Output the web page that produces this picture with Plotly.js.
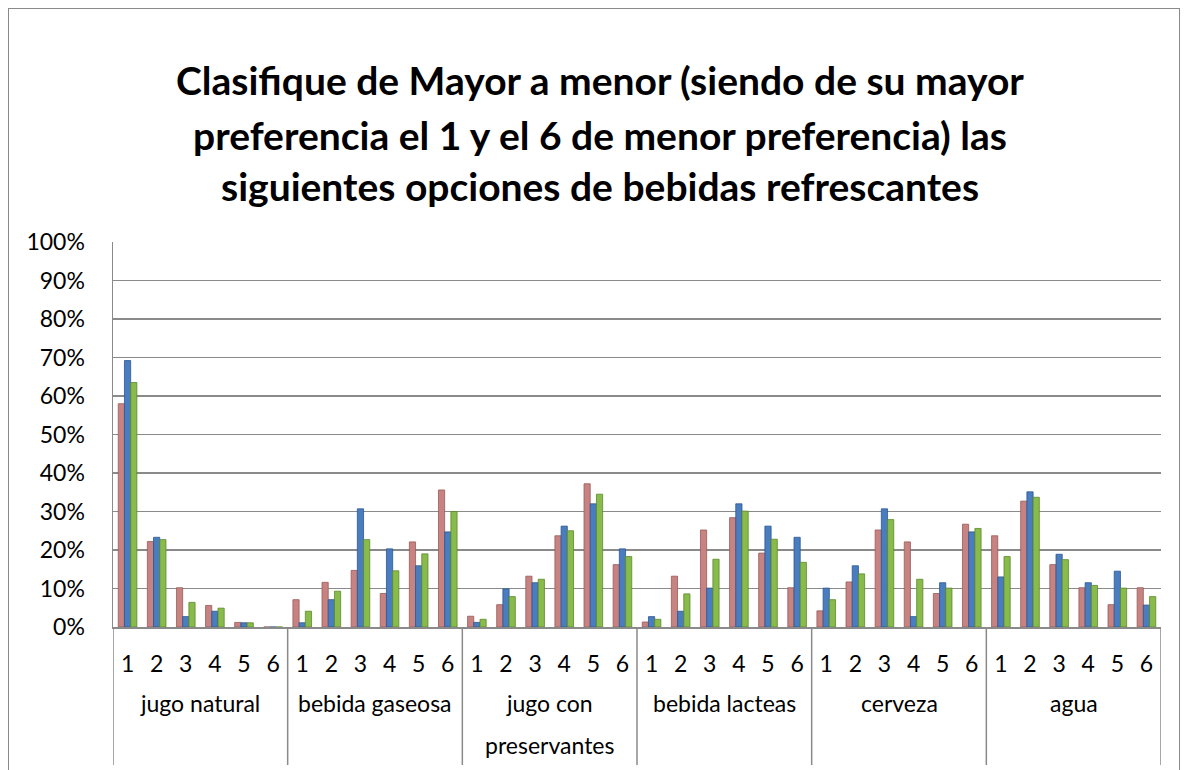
<!DOCTYPE html>
<html>
<head>
<meta charset="utf-8">
<script src="https://cdn.plot.ly/plotly-3.0.1.min.js"></script>
<style>
  html, body { margin: 0; padding: 0; background: #fff; overflow: hidden; }
  #chart { position: absolute; left: 0; top: 0; width: 1189px; height: 770px; }
  #frame { position: absolute; left: 8px; top: 8px; width: 1170px; height: 820px;
           border: 1.5px solid #8a8a8a; pointer-events: none; }
</style>
</head>
<body>
<div id="chart"></div>
<div id="frame"></div>
<script>
// ---- data ----
const titleLines = [
  "Clasifique de Mayor a menor (siendo de su mayor",
  "preferencia el 1 y el 6 de menor preferencia) las",
  "siguientes opciones de bebidas refrescantes"
];
const groups = ["jugo natural", "bebida gaseosa", "jugo con<br>preservantes", "bebida lacteas", "cerveza", "agua"];
const ranks = ["1", "2", "3", "4", "5", "6"];
const yTicks = [0, 10, 20, 30, 40, 50, 60, 70, 80, 90, 100];

// values in %, per group, ranks 1..6
const serieRoja = [
  58.0, 22.2, 10.2, 5.6, 1.2, 0,
  7.1, 11.6, 14.7, 8.7, 22.1, 35.6,
  2.8, 5.8, 13.2, 23.7, 37.2, 16.2,
  1.3, 13.2, 25.2, 28.4, 19.2, 10.2,
  4.2, 11.7, 25.2, 22.1, 8.7, 26.7,
  23.7, 32.7, 16.2, 10.2, 5.8, 10.2
];
const serieAzul = [
  69.2, 23.3, 2.7, 4.1, 1.1, 0,
  1.1, 7.1, 30.7, 20.3, 15.9, 24.7,
  1.2, 9.9, 11.5, 26.2, 32.0, 20.3,
  2.7, 4.1, 10.1, 32.0, 26.2, 23.3,
  10.1, 15.9, 30.7, 2.7, 11.5, 24.7,
  13.0, 35.1, 18.9, 11.5, 14.5, 5.7
];
const serieVerde = [
  63.5, 22.7, 6.4, 4.9, 1.1, 0,
  4.1, 9.3, 22.7, 14.6, 19.0, 30.0,
  2.0, 7.9, 12.4, 25.0, 34.5, 18.3,
  2.0, 8.6, 17.6, 30.1, 22.8, 16.8,
  7.1, 13.8, 27.9, 12.4, 10.1, 25.6,
  18.3, 33.7, 17.5, 10.8, 10.1, 7.9
];

// ---- build ----
const nG = groups.length, nR = ranks.length;
const xIdx = [], xText = [];
for (let g = 0; g < nG; g++) for (let r = 0; r < nR; r++) { xIdx.push(g * nR + r); xText.push(ranks[r]); }

function barTrace(name, vals, color, line) {
  return {
    type: 'bar', name: name, x: xIdx, y: vals,
    marker: { color: color, line: { color: line, width: 0.8 } },
    hoverinfo: 'y'
  };
}
const data = [
  barTrace('Serie 1', serieRoja, '#C68381', '#9a5a58'),
  barTrace('Serie 2', serieAzul, '#4A7DC0', '#2c5590'),
  barTrace('Serie 3', serieVerde, '#88BA4C', '#5c8a2a')
];

const plotTop = 242, plotBottom = 627, plotH = plotBottom - plotTop;
const pY = px => (plotBottom - px) / plotH;
const font = 'Lato, "Open Sans", sans-serif';

const shapes = [];
for (let g = 0; g <= nG; g++) {
  shapes.push({ type: 'line', xref: 'x', yref: 'paper', x0: g * nR - 0.5, x1: g * nR - 0.5,
    y0: 0, y1: pY(765), line: { color: '#8a8a8a', width: 1.5 } });
}
const annotations = [];
const titleY = [80, 135, 186];
titleLines.forEach((t, i) => annotations.push({
  text: '<b>' + t + '</b>', xref: 'paper', yref: 'paper', x: 0.4644, y: pY(titleY[i]),
  xanchor: 'center', yanchor: 'middle', showarrow: false,
  font: { family: font, size: 39, color: '#000' }
}));
groups.forEach((gname, g) => gname.split('<br>').forEach((line, k) => annotations.push({
  text: line, xref: 'x', yref: 'paper', x: g * nR + (nR - 1) / 2, y: pY(703 + 42 * k),
  xanchor: 'center', yanchor: 'middle', showarrow: false,
  font: { family: font, size: 23, color: '#000' }
})));

const layout = {
  width: 1189, height: 770,
  margin: { l: 113, r: 28, t: plotTop, b: 770 - plotBottom, pad: 0 },
  paper_bgcolor: '#fff', plot_bgcolor: '#fff',
  showlegend: false,
  barmode: 'group', bargap: 0.36, bargroupgap: 0,
  xaxis: {
    type: 'linear', range: [-0.5, nG * nR - 0.5],
    tickmode: 'array', tickvals: xIdx, ticktext: xText,
    ticks: '', showgrid: false, zeroline: false,
    showline: true, linecolor: '#8a8a8a', linewidth: 1.5,
    ticklabelstandoff: 16,
    tickfont: { family: font, size: 23, color: '#000' }
  },
  yaxis: {
    range: [0, 100], tickmode: 'array', tickvals: yTicks,
    ticktext: yTicks.map(v => v + '%'),
    showgrid: true, gridcolor: '#8a8a8a', gridwidth: 1.5,
    zeroline: false, showline: true, linecolor: '#8a8a8a', linewidth: 1.5,
    ticks: '', ticklabelstandoff: 22,
    tickfont: { family: font, size: 23, color: '#000' }
  },
  shapes: shapes,
  annotations: annotations
};

Plotly.newPlot('chart', data, layout, { displayModeBar: false, staticPlot: true });
</script>
</body>
</html>
